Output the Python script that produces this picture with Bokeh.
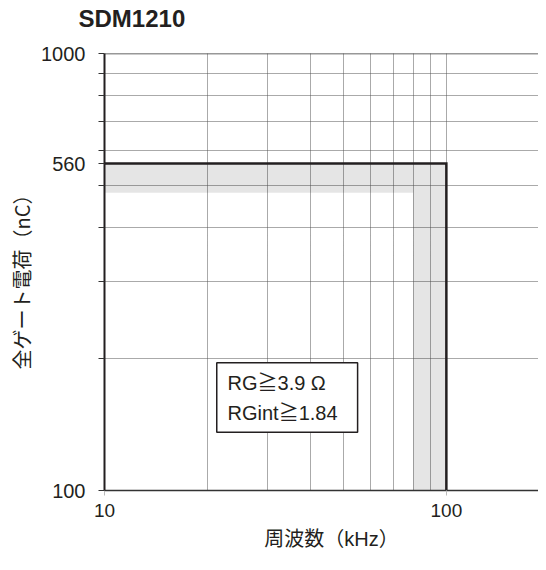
from bokeh.plotting import figure
from bokeh.models import FixedTicker, Span, BoxAnnotation, Label, Title
from bokeh.embed import file_html
from bokeh.resources import INLINE

# ---- data ----
title_text = "SDM1210"
x_label = "　周波数（kHz）"
y_label = "全ゲート電荷（nC）　"

freq_min, freq_max = 10, 186
charge_min, charge_max = 100, 1000

# safe operating boundary (black line)
limit_freq = [10, 100, 100]
limit_charge = [560, 560, 100]

# grey tolerance band (L shape outline)
band_freq = [10, 100, 100, 80, 80, 10]
band_charge = [560, 560, 100, 100, 480, 480]

x_major_ticks = [10, 100]
x_minor_ticks = [20, 30, 40, 50, 60, 70, 80, 90]
x_grid_ticks = [20, 30, 40, 50, 60, 70, 80, 90, 100]
y_major_ticks = [100, 560, 1000]
y_minor_ticks = [200, 300, 400, 500, 600, 700, 800, 900]

note_lines = ["RG≧3.9 Ω", "RGint≧1.84"]
note_box = dict(left=21.3, right=55.0, bottom=136.0, top=196.0)
note_x = 22.9
note_y = [171.0, 146.0]

DARK = "#231f20"
FONT = "Liberation Sans"
MIXED = "Liberation Sans, Noto Sans CJK JP"
CJK = "Noto Sans CJK JP"

p = figure(width=538, height=554, x_axis_type="log", y_axis_type="log",
           x_range=(freq_min, freq_max), y_range=(charge_min, charge_max),
           output_backend="svg", toolbar_location=None, title=None,
           min_border_left=104, min_border_right=0, min_border_top=53,
           min_border_bottom=64)

p.outline_line_color = None
p.background_fill_color = "white"

# title (spacer first: closest to the frame)
p.add_layout(Title(text=" ", text_font_size="18px", standoff=0), "above")
p.add_layout(Title(text=title_text, text_font=FONT, text_font_style="bold",
                   text_font_size="24px", text_color=DARK, align="left",
                   offset=-26, standoff=0), "above")

# grids
p.xgrid.ticker = FixedTicker(ticks=x_grid_ticks)
p.ygrid.ticker = FixedTicker(ticks=y_minor_ticks)
for g in (p.xgrid, p.ygrid):
    g.grid_line_color = "#555555"
    g.grid_line_dash = "1 1"
    g.grid_line_width = 1

# band
p.patch(band_freq, band_charge, fill_color="black", fill_alpha=0.1, line_color=None)

# top border at 1000
p.add_layout(Span(location=charge_max, dimension="width", line_color="#333333", line_width=1.5))

# boundary line
p.line(limit_freq, limit_charge, line_color=DARK, line_width=2.5, line_join="miter")

# axes
p.xaxis.ticker = FixedTicker(ticks=x_major_ticks, minor_ticks=x_minor_ticks)
p.yaxis.ticker = FixedTicker(ticks=y_major_ticks, minor_ticks=y_minor_ticks)
p.xaxis.major_label_overrides = {t: str(t) for t in x_major_ticks}
p.yaxis.major_label_overrides = {t: str(t) for t in y_major_ticks}

p.yaxis.axis_line_color = DARK
p.yaxis.axis_line_width = 2
p.yaxis.major_tick_out = 6
p.yaxis.major_tick_in = 0
p.yaxis.minor_tick_out = 6
p.yaxis.minor_tick_in = 0
p.yaxis.major_tick_line_color = "#333333"
p.yaxis.minor_tick_line_color = "#333333"
p.yaxis.major_label_standoff = 13
p.yaxis.major_label_text_font_size = "20px"

p.xaxis.axis_line_color = "#333333"
p.xaxis.axis_line_width = 1.5
p.xaxis.major_tick_out = 5
p.xaxis.major_tick_in = 0
p.xaxis.major_tick_line_color = "#bbbbbb"
p.xaxis.minor_tick_line_color = None
p.xaxis.major_label_standoff = 8
p.xaxis.major_label_text_font_size = "19px"

for ax in (p.xaxis, p.yaxis):
    ax.major_label_text_font = FONT
    ax.major_label_text_color = DARK
    ax.axis_label_text_font_size = "20px"
    ax.axis_label_text_font_style = "normal"
    ax.axis_label_text_color = DARK

p.xaxis.axis_label_text_font = MIXED
p.yaxis.axis_label_text_font = CJK
p.xaxis.axis_label = x_label
p.yaxis.axis_label = y_label
p.xaxis.axis_label_standoff = 8
p.yaxis.axis_label_standoff = 2

# note box
p.add_layout(BoxAnnotation(left=note_box["left"], right=note_box["right"],
                           bottom=note_box["bottom"], top=note_box["top"],
                           fill_color="white", fill_alpha=1.0,
                           line_color=DARK, line_width=1.5, line_alpha=1.0))
for txt, yy in zip(note_lines, note_y):
    p.add_layout(Label(x=note_x, y=yy, y_offset=6, text=txt,
                       text_font=MIXED, text_font_size="20px", text_color=DARK,
                       text_baseline="alphabetic"))

open("out.html", "w").write(file_html(p, INLINE))
